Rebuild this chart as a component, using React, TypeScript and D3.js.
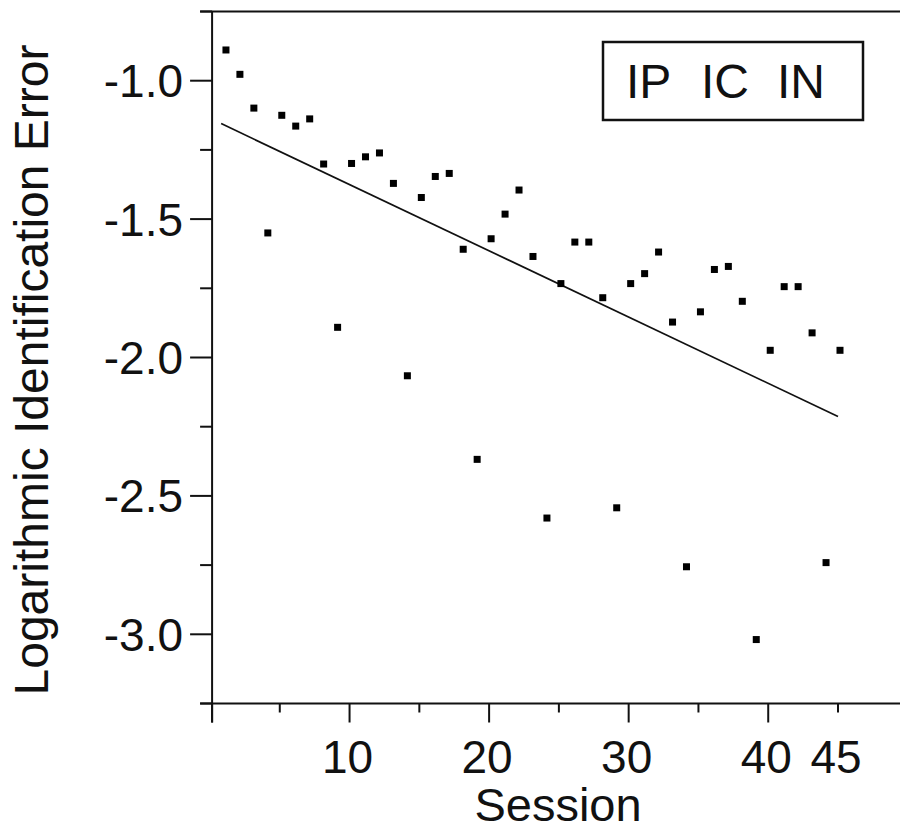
import React from "react";
import * as d3 from "d3";

const sessions: number[] = d3.range(1, 46);
const errorValues: number[] = [
  -0.889, -0.977, -1.099, -1.55, -1.125, -1.164, -1.138, -1.301, -1.891, -1.299,
  -1.275, -1.261, -1.371, -2.066, -1.422, -1.346, -1.335, -1.609, -2.368, -1.571,
  -1.482, -1.395, -1.635, -2.58, -1.733, -1.583, -1.583, -1.784, -2.543, -1.733,
  -1.697, -1.619, -1.872, -2.756, -1.835, -1.682, -1.671, -1.797, -3.019, -1.974,
  -1.744, -1.744, -1.911, -2.741, -1.974,
];
const fitSessions: number[] = [0.8, 45];
const fitValues: number[] = [-1.155, -2.213];
const xTickValues: number[] = [0, 5, 10, 15, 20, 25, 30, 35, 40, 45];
const xTickLabels: number[] = [10, 20, 30, 40, 45];
const yTickValues: number[] = d3.range(-3.25, -0.74, 0.25).map((v) => Math.round(v * 100) / 100);
const yTickLabels: number[] = [-1.0, -1.5, -2.0, -2.5, -3.0];
const legendLabels: string[] = ["IP", "IC", "IN"];

const W = 900;
const H = 830;
const FONT = "'Liberation Sans', Arial, Helvetica, sans-serif";

export default function App() {
  const x = d3.scaleLinear().domain([0, 45]).range([210, 838]);
  const y = d3.scaleLinear().domain([-3.25, -0.75]).range([703.5, 11.5]);
  const x0 = x(0.15);
  const yBottom = y(-3.25);
  const yTop = y(-0.75);
  const line = d3
    .line<number>()
    .x((_, i) => x(fitSessions[i]))
    .y((d) => y(d));
  const ms = 7;
  const isMajorY = (v: number) => Math.abs(v * 2 - Math.round(v * 2)) < 1e-6;
  const legendX = [626, 701, 777];

  return (
    <svg
      width={W}
      height={H}
      style={{ position: "absolute", left: 0, top: 0, background: "#fff" }}
      fontFamily={FONT}
    >
      <rect x={0} y={0} width={W} height={H} fill="#fff" />
      {/* axes */}
      <line x1={x0} x2={x0} y1={yTop} y2={yBottom + 19} stroke="#111" strokeWidth={2} />
      <line x1={x0 - 12} x2={W} y1={yTop} y2={yTop} stroke="#111" strokeWidth={2} />
      <line x1={x0 - 12} x2={W} y1={yBottom} y2={yBottom} stroke="#111" strokeWidth={2} />
      {/* y ticks */}
      {yTickValues.map((v) => (
        <line
          key={"yt" + v}
          x1={x0 - (isMajorY(v) ? 22 : 12)}
          x2={x0}
          y1={y(v)}
          y2={y(v)}
          stroke="#111"
          strokeWidth={2}
        />
      ))}
      {yTickLabels.map((v) => (
        <text key={"yl" + v} x={183} y={y(v) + 16.5} fontSize={46} textAnchor="end" fill="#111">
          {d3.format(".1f")(v).replace("−", "-")}
        </text>
      ))}
      {/* x ticks */}
      {xTickValues.map((s) => (
        <line
          key={"xt" + s}
          x1={s === 0 ? x0 : x(s)}
          x2={s === 0 ? x0 : x(s)}
          y1={yBottom}
          y2={yBottom + (s % 10 === 0 ? 19 : 9)}
          stroke="#111"
          strokeWidth={2}
        />
      ))}
      {xTickLabels.map((s) => (
        <text key={"xl" + s} x={x(s) - 2} y={773} fontSize={46} textAnchor="middle" fill="#111">
          {s}
        </text>
      ))}
      <text x={558} y={821} fontSize={47} textAnchor="middle" fill="#111">
        Session
      </text>
      <text
        transform={`translate(48,370) rotate(-90)`}
        fontSize={48}
        textAnchor="middle"
        fill="#111"
      >
        Logarithmic Identification Error
      </text>
      {/* fit line */}
      <path d={line(fitValues) || ""} fill="none" stroke="#111" strokeWidth={1.7} />
      {/* points */}
      {errorValues.map((v, i) => (
        <rect
          key={"p" + i}
          x={x(sessions[i]) + 2 - ms / 2}
          y={y(v) - ms / 2}
          width={ms}
          height={ms}
          fill="#000"
        />
      ))}
      {/* legend */}
      <rect x={603} y={42} width={260} height={78} fill="none" stroke="#111" strokeWidth={2.5} />
      {legendLabels.map((t, i) => (
        <text key={t} x={legendX[i]} y={98} fontSize={48} fill="#111">
          {t}
        </text>
      ))}
    </svg>
  );
}
